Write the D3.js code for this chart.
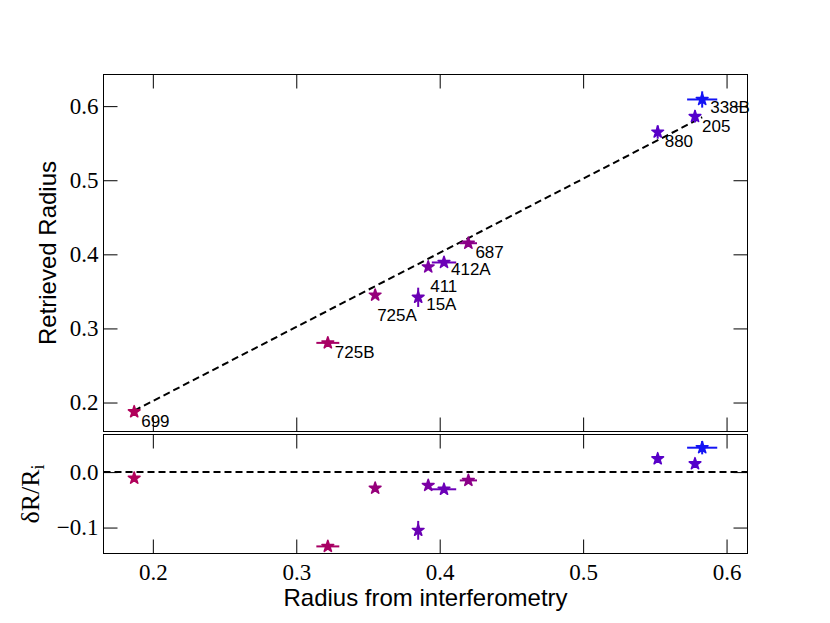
<!DOCTYPE html>
<meta charset="utf-8">
<html>
<head>
<style>
  body { margin: 0; background: #fff; }
  svg { display: block; }
  .ptLabel { font-family: "Liberation Sans", sans-serif; font-size: 17px; fill: #000; }
  .axLabel { font-family: "Liberation Sans", sans-serif; font-size: 24px; fill: #000; }
</style>
<script src="https://d3js.org/d3.v7.min.js"></script>
</head>
<body>
<svg width="830" height="623"></svg>
<script>
// star names and values
var names = ["699", "725B", "725A", "15A", "411", "412A", "687", "880", "205", "338B"];
var radInterf    = [0.187, 0.322, 0.355, 0.385, 0.392, 0.403, 0.420, 0.552, 0.578, 0.583];
var radInterfErr = [0.002, 0.008, 0.002, 0.002, 0.002, 0.0085, 0.006, 0.002, 0.002, 0.0105];
var radRetr      = [0.1875, 0.2805, 0.345, 0.342, 0.383, 0.389, 0.415, 0.565, 0.586, 0.609];
var radRetrErr   = [0.002, 0.002, 0.003, 0.013, 0.003, 0.002, 0.003, 0.009, 0.008, 0.011];
var resid        = [-0.011, -0.134, -0.029, -0.105, -0.024, -0.031, -0.015, 0.024, 0.015, 0.044];
var residErr     = [0.003, 0.003, 0.004, 0.017, 0.004, 0.003, 0.004, 0.007, 0.007, 0.012];
var colors = ["#b0005a", "#a80064", "#96007a", "#6a00b4", "#7c00a4", "#6c00b8", "#8c0088", "#5800c8", "#5400cc", "#1414f4"];

var fitX = [0.187, 0.583];
var fitY = [0.189, 0.585];

var xTicks = [0.2, 0.3, 0.4, 0.5, 0.6];
var yTopTicks = [0.2, 0.3, 0.4, 0.5, 0.6];
var yBotTicks = [-0.1, 0.0];

var left = 103.5, right = 747.5;
var top1 = 74.5, bot1 = 431.5;
var top2 = 434.5, bot2 = 553.5;

var x = d3.scaleLinear().domain([0.1656, 0.6146]).range([left, right]);
var yTop = d3.scaleLinear().domain([0.1609, 0.6427]).range([bot1, top1]);
var yBot = d3.scaleLinear().domain([-0.1468, 0.0678]).range([bot2, top2]);

var svg = d3.select("svg");
svg.append("rect").attr("width", 830).attr("height", 623).attr("fill", "#fff");

var data = names.map(function(n, i) {
    return {name: n, x: radInterf[i], xe: radInterfErr[i], y: radRetr[i], ye: radRetrErr[i],
            r: resid[i], re: residErr[i], c: colors[i]};
});

var tl = 14;
function styleAxis(g) {
    g.select(".domain").remove();
    g.selectAll(".tick text")
        .style("font-family", "'Liberation Serif', serif")
        .style("font-size", "23px")
        .style("fill", "#000");
    g.selectAll(".tick line").attr("stroke", "#000");
}
function frame(yScale, ticks, yTopPx, yBotPx, showX) {
    var fmt = d3.format(".1f");
    svg.append("g").attr("transform", "translate(" + left + ",0)")
        .call(d3.axisLeft(yScale).tickValues(ticks).tickSizeInner(-tl).tickSizeOuter(0).tickPadding(5).tickFormat(fmt))
        .call(styleAxis);
    svg.append("g").attr("transform", "translate(" + right + ",0)")
        .call(d3.axisRight(yScale).tickValues(ticks).tickSizeInner(-tl).tickSizeOuter(0).tickFormat(""))
        .call(styleAxis);
    svg.append("g").attr("transform", "translate(0," + yBotPx + ")")
        .call(d3.axisBottom(x).tickValues(xTicks).tickSizeInner(-tl).tickSizeOuter(0).tickPadding(10)
              .tickFormat(showX ? fmt : ""))
        .call(styleAxis);
    svg.append("g").attr("transform", "translate(0," + yTopPx + ")")
        .call(d3.axisTop(x).tickValues(xTicks).tickSizeInner(-tl).tickSizeOuter(0).tickFormat(""))
        .call(styleAxis);
    svg.append("rect")
        .attr("x", left).attr("y", yTopPx)
        .attr("width", right - left).attr("height", yBotPx - yTopPx)
        .attr("fill", "none").attr("stroke", "#000").attr("stroke-width", 1);
}

frame(yTop, yTopTicks, top1, bot1, false);
frame(yBot, yBotTicks, top2, bot2, true);

// dashed one-to-one line
svg.append("line")
    .attr("x1", x(fitX[0])).attr("y1", yTop(fitY[0]))
    .attr("x2", x(fitX[1])).attr("y2", yTop(fitY[1]))
    .attr("stroke", "#000").attr("stroke-width", 2).attr("stroke-dasharray", "7,4");

svg.append("line")
    .attr("x1", left).attr("x2", right)
    .attr("y1", yBot(0)).attr("y2", yBot(0))
    .attr("stroke", "#000").attr("stroke-width", 2).attr("stroke-dasharray", "7,4");

var star = d3.symbol().type(d3.symbolStar).size(42);

function points(yScale, yKey, eKey) {
    var g = svg.append("g");
    data.forEach(function(d) {
        g.append("line")
            .attr("x1", x(d.x - d.xe)).attr("x2", x(d.x + d.xe))
            .attr("y1", yScale(d[yKey])).attr("y2", yScale(d[yKey]))
            .attr("stroke", d.c).attr("stroke-width", 2);
        g.append("line")
            .attr("x1", x(d.x)).attr("x2", x(d.x))
            .attr("y1", yScale(d[yKey] - d[eKey])).attr("y2", yScale(d[yKey] + d[eKey]))
            .attr("stroke", d.c).attr("stroke-width", 2);
        g.append("path")
            .attr("d", star)
            .attr("transform", "translate(" + x(d.x) + "," + yScale(d[yKey]) + ")")
            .attr("fill", d.c).attr("stroke", d.c).attr("stroke-width", 1.6)
            .attr("stroke-linejoin", "round");
    });
}

points(yTop, "y", "ye");
points(yBot, "r", "re");

// annotation offsets (px)
var labelOffset = {"725A": [2, 26], "411": [2, 25], "15A": [8, 13], "412A": [7, 13], "338B": [8, 14]};
svg.append("g").selectAll("text")
    .data(data)
    .enter().append("text")
    .attr("class", "ptLabel")
    .attr("x", d => x(d.x) + (labelOffset[d.name] || [7, 15])[0])
    .attr("y", d => yTop(d.y) + (labelOffset[d.name] || [7, 15])[1])
    .text(d => d.name);

svg.append("text")
    .attr("class", "axLabel")
    .attr("x", (left + right) / 2)
    .attr("y", 606)
    .style("text-anchor", "middle")
    .text("Radius from interferometry");

svg.append("text")
    .attr("class", "axLabel")
    .attr("transform", "translate(56," + ((top1 + bot1) / 2) + ") rotate(-90)")
    .style("text-anchor", "middle")
    .text("Retrieved Radius");

var rl = svg.append("text")
    .attr("transform", "translate(39," + ((top2 + bot2) / 2) + ") rotate(-90)")
    .style("text-anchor", "middle")
    .style("font-family", "'Liberation Serif', serif")
    .style("font-size", "26px");
rl.append("tspan").text("\u03B4R/R");
rl.append("tspan").attr("dy", 5).style("font-size", "18px").text("i");
</script>
</body>
</html>
